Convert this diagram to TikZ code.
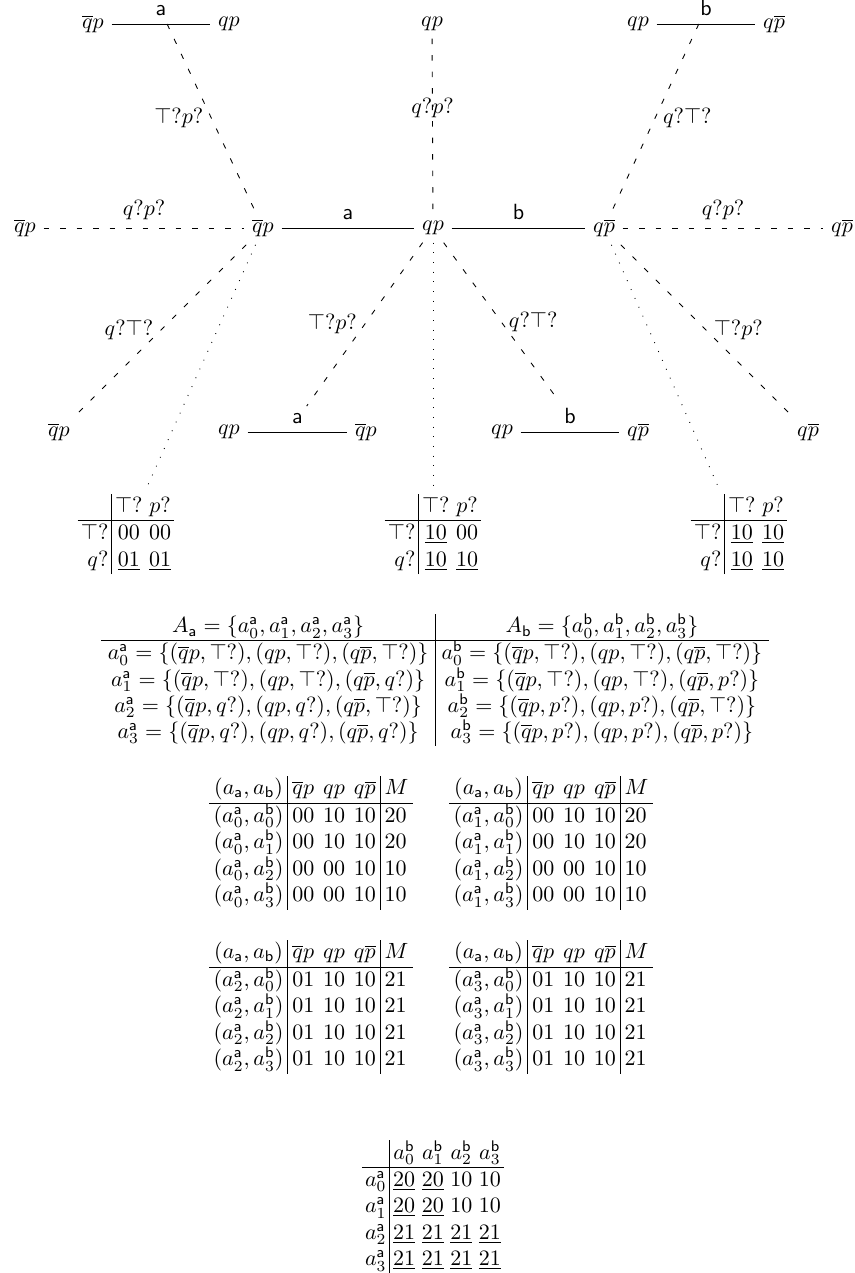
\documentclass[tikz,border=0pt]{standalone}
\usepackage{amsmath,amssymb}
\setlength{\tabcolsep}{2pt}
\newcommand{\qb}{\overline{q}p}
\newcommand{\pb}{q\overline{p}}
\tikzset{
  act/.style={font=\sffamily},
  info/.style={dash pattern=on 2.5pt off 5pt},
  tree/.style={loosely dotted},
  small/.style={execute at begin node={\setlength{\tabcolsep}{1.5pt}}},
  wide/.style={execute at begin node={\setlength{\tabcolsep}{3pt}\renewcommand{\arraystretch}{0.95}}},
}
\begin{document}
\begin{tikzpicture}[x=0.4545pt,y=-0.4545pt]
\useasboundingbox (0,0) rectangle (854,1273);
% top row
\node (tl1) at (93,24) {$\qb$};
\node (tl2) at (229,24) {$qp$};
\node (tc) at (432,24) {$qp$};
\node (tr1) at (638,24) {$qp$};
\node (tr2) at (774,24) {$\pb$};
% middle row
\node (ml) at (25,228) {$\qb$};
\node (mcl) at (263,228) {$\qb$};
\node (mc) at (433,228) {$qp$};
\node (mcr) at (604,228) {$\pb$};
\node (mr) at (842,228) {$\pb$};
% bottom row
\node (bl) at (59,432) {$\qb$};
\node (ba1) at (229,432) {$qp$};
\node (ba2) at (366,432) {$\qb$};
\node (bb1) at (502,432) {$qp$};
\node (bb2) at (638,432) {$\pb$};
\node (br) at (808,432) {$\pb$};
% solid action edges
\draw (tl1) -- node[act,above] (la1) {a} (tl2);
\draw (tr1) -- node[act,above] (lb1) {b} (tr2);
\draw (mcl) -- node[act,above] {a} (mc);
\draw (mc) -- node[act,above] {b} (mcr);
\draw (ba1) -- node[act,above] (la2) {a} (ba2);
\draw (bb1) -- node[act,above] (lb2) {b} (bb2);
% dashed observation edges
\draw[info] (la1) -- node[left] {$\top?p?$} (mcl);
\draw[info] (tc) -- node[above] {$q?p?$} (mc);
\draw[info] (lb1) -- node[right] {$q?\top?$} (mcr);
\draw[info] (ml) -- node[above] {$q?p?$} (mcl);
\draw[info] (mcr) -- node[above] {$q?p?$} (mr);
\draw[info] (mcl) -- node[left] {$q?\top?$} (bl);
\draw[info] (mc) -- node[left] {$\top?p?$} (la2);
\draw[info] (mc) -- node[right] {$q?\top?$} (lb2);
\draw[info] (mcr) -- node[right] {$\top?p?$} (br);
% small payoff tables
\node[small] (tabL) at (126,534) {\begin{tabular}{r|cc}
 & $\top?$ & $p?$ \\ \hline
$\top?$ & 00 & 00 \\
$q?$ & $\underline{01}$ & $\underline{01}$
\end{tabular}};
\node[small] (tabM) at (433,534) {\begin{tabular}{r|cc}
 & $\top?$ & $p?$ \\ \hline
$\top?$ & $\underline{10}$ & 00 \\
$q?$ & $\underline{10}$ & $\underline{10}$
\end{tabular}};
\node[small] (tabR) at (739,534) {\begin{tabular}{r|cc}
 & $\top?$ & $p?$ \\ \hline
$\top?$ & $\underline{10}$ & $\underline{10}$ \\
$q?$ & $\underline{10}$ & $\underline{10}$
\end{tabular}};
\draw[tree] (mcl) -- (tabL);
\draw[tree] (mc) -- (tabM);
\draw[tree] (mcr) -- (tabR);
% strategy sets
\node[wide] (strat) at (435,680) {\begin{tabular}{c|c}
$A_{\mathsf a}=\{a^{\mathsf a}_0,a^{\mathsf a}_1,a^{\mathsf a}_2,a^{\mathsf a}_3\}$ &
$A_{\mathsf b}=\{a^{\mathsf b}_0,a^{\mathsf b}_1,a^{\mathsf b}_2,a^{\mathsf b}_3\}$ \\ \hline
$a^{\mathsf a}_0=\{(\qb,\top?),(qp,\top?),(\pb,\top?)\}$ &
$a^{\mathsf b}_0=\{(\qb,\top?),(qp,\top?),(\pb,\top?)\}$ \\
$a^{\mathsf a}_1=\{(\qb,\top?),(qp,\top?),(\pb,q?)\}$ &
$a^{\mathsf b}_1=\{(\qb,\top?),(qp,\top?),(\pb,p?)\}$ \\
$a^{\mathsf a}_2=\{(\qb,q?),(qp,q?),(\pb,\top?)\}$ &
$a^{\mathsf b}_2=\{(\qb,p?),(qp,p?),(\pb,\top?)\}$ \\
$a^{\mathsf a}_3=\{(\qb,q?),(qp,q?),(\pb,q?)\}$ &
$a^{\mathsf b}_3=\{(\qb,p?),(qp,p?),(\pb,p?)\}$
\end{tabular}};
% outcome tables
\node (o0) at (311,843) {\begin{tabular}{c|ccc|l}
$(a_{\mathsf a},a_{\mathsf b})$ & $\qb$ & $qp$ & $\pb$ & $M$ \\ \hline
$(a^{\mathsf a}_0,a^{\mathsf b}_0)$ & 00 & 10 & 10 & 20 \\
$(a^{\mathsf a}_0,a^{\mathsf b}_1)$ & 00 & 10 & 10 & 20 \\
$(a^{\mathsf a}_0,a^{\mathsf b}_2)$ & 00 & 00 & 10 & 10 \\
$(a^{\mathsf a}_0,a^{\mathsf b}_3)$ & 00 & 00 & 10 & 10
\end{tabular}};
\node (o1) at (551,843) {\begin{tabular}{c|ccc|l}
$(a_{\mathsf a},a_{\mathsf b})$ & $\qb$ & $qp$ & $\pb$ & $M$ \\ \hline
$(a^{\mathsf a}_1,a^{\mathsf b}_0)$ & 00 & 10 & 10 & 20 \\
$(a^{\mathsf a}_1,a^{\mathsf b}_1)$ & 00 & 10 & 10 & 20 \\
$(a^{\mathsf a}_1,a^{\mathsf b}_2)$ & 00 & 00 & 10 & 10 \\
$(a^{\mathsf a}_1,a^{\mathsf b}_3)$ & 00 & 00 & 10 & 10
\end{tabular}};
\node (o2) at (311,1007) {\begin{tabular}{c|ccc|l}
$(a_{\mathsf a},a_{\mathsf b})$ & $\qb$ & $qp$ & $\pb$ & $M$ \\ \hline
$(a^{\mathsf a}_2,a^{\mathsf b}_0)$ & 01 & 10 & 10 & 21 \\
$(a^{\mathsf a}_2,a^{\mathsf b}_1)$ & 01 & 10 & 10 & 21 \\
$(a^{\mathsf a}_2,a^{\mathsf b}_2)$ & 01 & 10 & 10 & 21 \\
$(a^{\mathsf a}_2,a^{\mathsf b}_3)$ & 01 & 10 & 10 & 21
\end{tabular}};
\node (o3) at (551,1007) {\begin{tabular}{c|ccc|l}
$(a_{\mathsf a},a_{\mathsf b})$ & $\qb$ & $qp$ & $\pb$ & $M$ \\ \hline
$(a^{\mathsf a}_3,a^{\mathsf b}_0)$ & 01 & 10 & 10 & 21 \\
$(a^{\mathsf a}_3,a^{\mathsf b}_1)$ & 01 & 10 & 10 & 21 \\
$(a^{\mathsf a}_3,a^{\mathsf b}_2)$ & 01 & 10 & 10 & 21 \\
$(a^{\mathsf a}_3,a^{\mathsf b}_3)$ & 01 & 10 & 10 & 21
\end{tabular}};
% normal form
\node[small] (nf) at (433,1207) {\begin{tabular}{c|cccc}
 & $a^{\mathsf b}_0$ & $a^{\mathsf b}_1$ & $a^{\mathsf b}_2$ & $a^{\mathsf b}_3$ \\ \hline
$a^{\mathsf a}_0$ & $\underline{20}$ & $\underline{20}$ & 10 & 10 \\
$a^{\mathsf a}_1$ & $\underline{20}$ & $\underline{20}$ & 10 & 10 \\
$a^{\mathsf a}_2$ & $\underline{21}$ & $\underline{21}$ & $\underline{21}$ & $\underline{21}$ \\
$a^{\mathsf a}_3$ & $\underline{21}$ & $\underline{21}$ & $\underline{21}$ & $\underline{21}$
\end{tabular}};
\end{tikzpicture}
\end{document}
